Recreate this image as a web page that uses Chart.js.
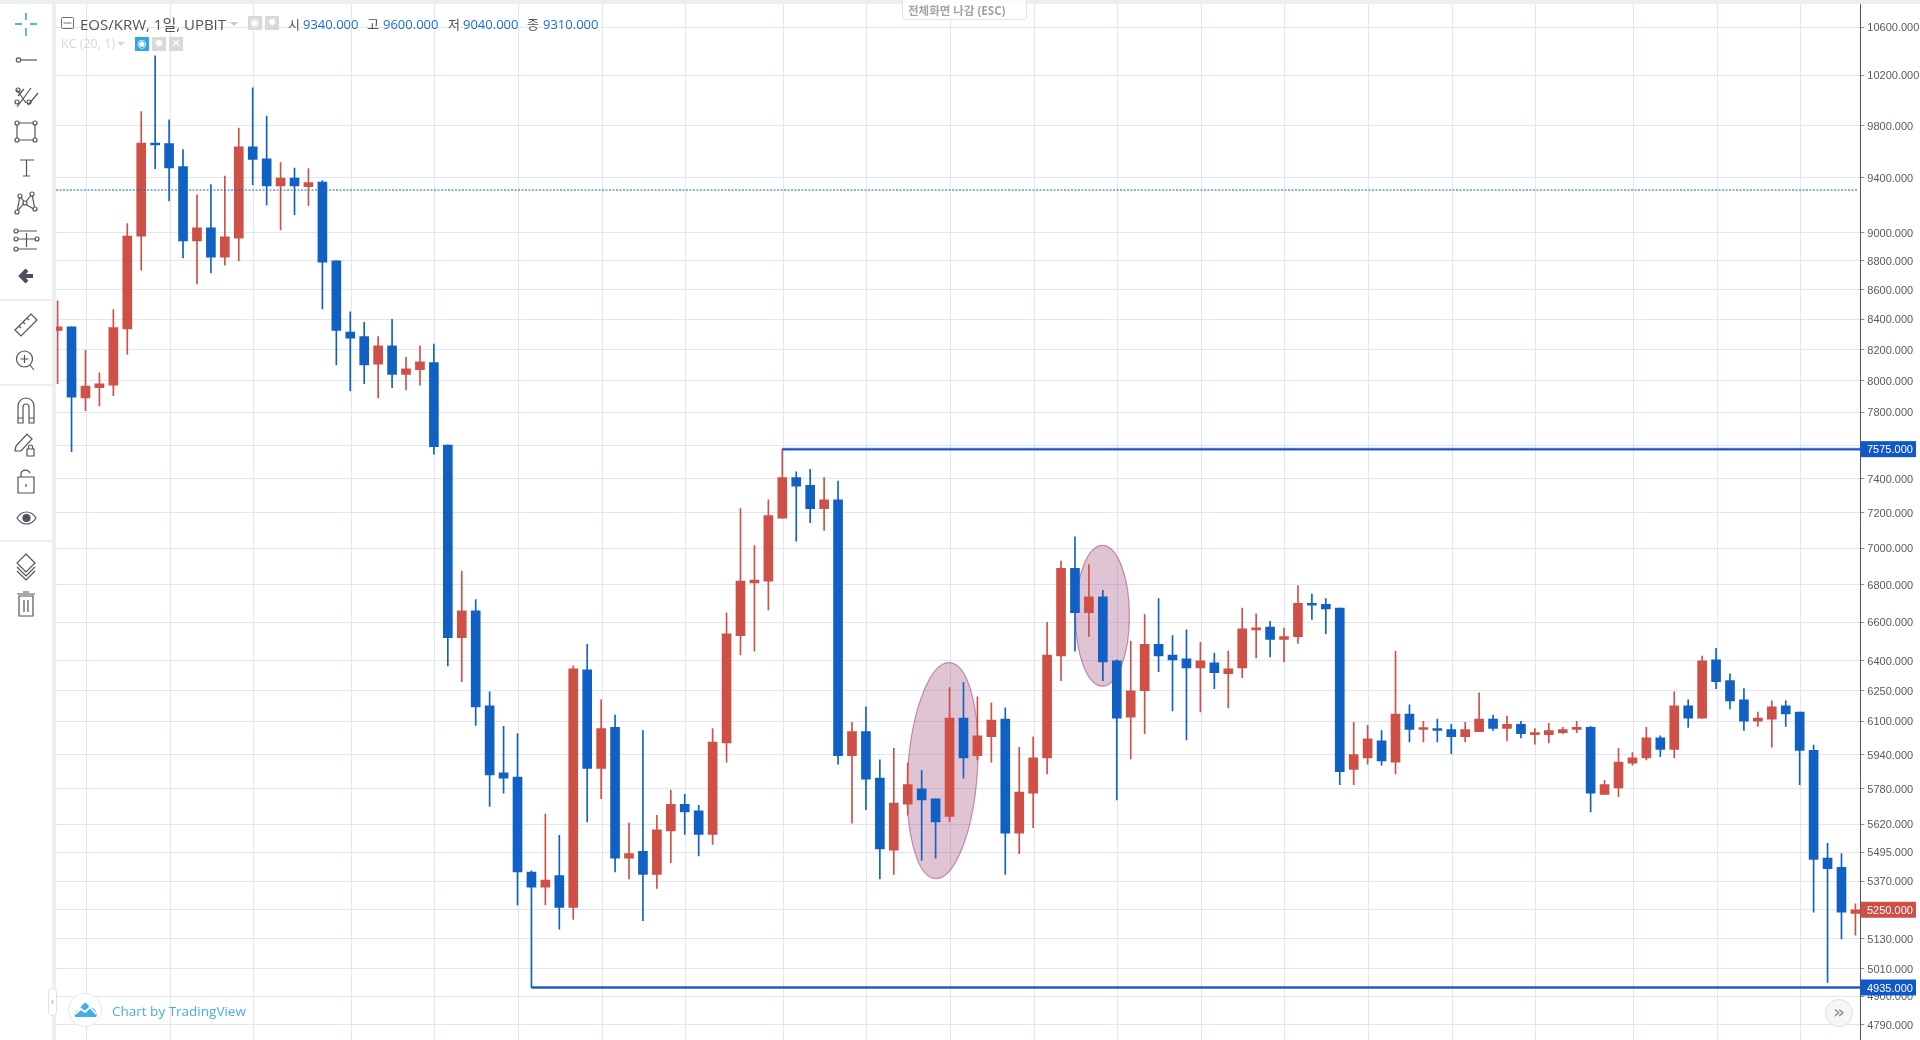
<!DOCTYPE html>
<html lang="ko">
<head>
<meta charset="utf-8">
<title>EOS/KRW</title>
<script src="https://cdn.jsdelivr.net/npm/chart.js@4/dist/chart.umd.min.js"></script>
<style>
    html, body { margin: 0; padding: 0; background: #fff; width: 1920px; height: 1040px; overflow: hidden; }
    #chart { position: absolute; left: 0; top: 0; }
    .abs { position: absolute; white-space: nowrap; }
    .hd { font: 13px "Open Sans", "Noto Sans CJK KR", sans-serif; line-height: 16px; top: 16px; }
    .lab { color: #50535e; }
    .val { color: #1a6fd0; }
    .btn { width: 14px; height: 14px; background: #d9d9d9; top: 16px; color: #fff; font: 11px/14px "DejaVu Sans", sans-serif; text-align: center; }
</style>
</head>
<body>
<canvas id="chart" width="1920" height="1040"></canvas>

<!-- frame strips -->
<div class="abs" style="left:0;top:0;width:1920px;height:4px;background:#eceff2"></div>
<div class="abs" style="left:52px;top:0;width:4px;height:1040px;background:#eceff2"></div>

<!-- drawing toolbar -->
<svg class="abs" style="left:0;top:0" width="52" height="630" fill="none" stroke="#50535e" stroke-width="1.2">
    <g stroke="#1e9be8" stroke-width="1.4"><path d="M15 24h7M30 24h7M26 13v7M26 28v8"/></g>
    <circle cx="18.5" cy="60" r="2.2"/><path d="M21 60h16"/>
    <g transform="translate(0,-3)"><path d="M17 110l14-19M26 106l-9-13M24 92l-6 7M38 96l-10 12"/><circle cx="17" cy="105" r="2"/><circle cx="29" cy="105" r="2"/><circle cx="18" cy="93" r="2"/></g>
    <path d="M17 123h18v17H17z"/><circle cx="17" cy="123" r="2" fill="#fff"/><circle cx="35" cy="123" r="2" fill="#fff"/><circle cx="17" cy="140" r="2" fill="#fff"/><circle cx="35" cy="140" r="2" fill="#fff"/>
    <path d="M20 160h14M26.5 160v16M23 176h7"/>
    <path d="M17 212l3-16 5 7 7-9 3 16-11-7z"/><circle cx="20" cy="196" r="2" fill="#fff"/><circle cx="32" cy="194" r="2" fill="#fff"/><circle cx="25" cy="203" r="2" fill="#fff"/><circle cx="17" cy="212" r="2" fill="#fff"/><circle cx="35" cy="209" r="2" fill="#fff"/>
    <path d="M18 231h19M18 239h18M18 249h19M26.500 233v14"/><circle cx="16" cy="231" r="2"/><circle cx="16" cy="239" r="2"/><circle cx="37" cy="239" r="2"/><circle cx="16" cy="249" r="2"/>
    <path d="M33 276H22M27 270l-6 6 6 6" stroke="#4a4f5a" stroke-width="4"/>
    <path d="M0 300h52M0 385h52M0 541h52" stroke="#eceff2" stroke-width="2"/>
    <g transform="translate(0,-5)"><path d="M15 335l16-16 6 6-16 16zM19 331l2 2M23 327l2 2M27 323l2 2"/></g>
    <circle cx="24.500" cy="359" r="8"/><path d="M20.500 359h8M24.500 355v8M30 365l4 5"/>
    <g transform="translate(0,-6)"><path d="M18 429v-17a8 8 0 0 1 16 0v17h-5v-16a3 3 0 0 0-6 0v16zM18 424h5M29 424h5"/></g>
    <g transform="translate(0,-4)"><path d="M16 450l-1 5h6l11-12-5-5zM27 453h7v7h-7zM28.500 453v-2a2 2 0 0 1 4 0v2"/></g>
    <g transform="translate(0,-4)"><path d="M18 481h16v16H18zM21 481v-4a5 5 0 0 1 9 0M26 488v3"/></g>
    <path d="M17 518c5-8 14-8 19 0-5 8-14 8-19 0z"/><circle cx="26.500" cy="518" r="3.500" fill="#50535e"/>
    <g transform="translate(0,-3)"><path d="M26 557l9 9-9 9-9-9zM17 570l9 9 9-9M17 574l9 9 9-9"/></g>
    <path d="M19 596h14v20H19zM17 594h18M23 592h6M24 600v12M28 600v12"/>
</svg>

<!-- legend -->
<svg class="abs" style="left:61px;top:17px" width="13" height="13" fill="none" stroke="#6b7078"><rect x="0.500" y="0.500" width="12" height="11" rx="1"/><path d="M2.500 6h8"/></svg>
<div class="abs hd lab" style="left:80px;font-size:15px">EOS/KRW, 1일, UPBIT</div>
<div class="abs" style="left:230px;top:22px;border:4px solid transparent;border-top:4px solid #c8c8c8"></div>
<div class="abs btn" style="left:248px">◉</div>
<div class="abs btn" style="left:265px">✹</div>
<div class="abs hd lab" style="left:288px">시</div><div class="abs hd val" style="left:303px">9340.000</div>
<div class="abs hd lab" style="left:367px">고</div><div class="abs hd val" style="left:383px">9600.000</div>
<div class="abs hd lab" style="left:448px">저</div><div class="abs hd val" style="left:463px">9040.000</div>
<div class="abs hd lab" style="left:527px">종</div><div class="abs hd val" style="left:543px">9310.000</div>

<div class="abs hd" style="left:61px;top:36px;color:#d8d8d8;font-size:12.500px">KC (20, 1)</div>
<div class="abs" style="left:117px;top:42px;border:4px solid transparent;border-top:4px solid #d8d8d8"></div>
<div class="abs btn" style="left:135px;top:37px;background:#2fa8e6">◉</div>
<div class="abs btn" style="left:152px;top:37px">✹</div>
<div class="abs btn" style="left:169px;top:37px">✕</div>

<!-- fullscreen hint -->
<div class="abs" style="left:902px;top:-1px;width:118px;height:19px;padding-left:5px;border:1px solid #dfe2e6;border-radius:0 0 3px 3px;background:rgba(255,255,255,.88);color:#a3a3a3;font:bold 11.500px/21px 'Open Sans','Noto Sans CJK KR',sans-serif">전체화면 나감 (ESC)</div>

<!-- side handle and logo -->
<div class="abs" style="left:48px;top:988px;width:7px;height:26px;background:#fff;border:1px solid #dfe2e6;border-radius:4px;color:#aab;font:11px/25px sans-serif;text-align:center">‹</div>
<div class="abs" style="left:68px;top:993px;width:32px;height:32px;border:1px solid #e4e7ea;border-radius:50%;background:#fff"></div>
<svg class="abs" style="left:74px;top:1001px" width="24" height="18"><path d="M1 16c-1-4 1-7 4-7l4-6c2-2 4-1 5 1l2 3c2-1 6 1 6 5 1 2 1 3 0 4z" fill="#45ade9"/><path d="M1 13l6-5 4 3 5-5 6 7" fill="none" stroke="#fff" stroke-width="1.800"/></svg>
<div class="abs" style="left:112px;top:1001px;color:#45ade9;font:13.500px/20px 'Open Sans',sans-serif">Chart by TradingView</div>

<!-- scroll button -->
<div class="abs" style="left:1825px;top:999px;width:26px;height:26px;border:1px solid #ddd;border-radius:50%;background:#f6f6f6;color:#999;font:bold 18px/23px 'DejaVu Sans',sans-serif;text-align:center">»</div>

<script>
// Candles, one value per day
const opens = [
    8325, 8350, 7890, 7955, 7970, 8335, 8975, 9665, 9660, 9485,
    8940, 9035, 8825, 8960, 9635, 9545, 9340, 9400, 9335, 9370,
    8800, 8315, 8285, 8105, 8225, 8040, 8070, 8115, 7600, 6520,
    6660, 6175, 5855, 5835, 5410, 5345, 5395, 5260, 6355, 5875,
    6070, 5470, 5500, 5400, 5590, 5710, 5680, 5575, 5995, 6530,
    6810, 6820, 7170, 7405, 7360, 7225, 7275, 5935, 6050, 5830,
    5505, 5710, 5780, 5735, 5655, 6115, 5935, 6025, 6110, 5580,
    5760, 5925, 6425, 6890, 6650, 6735, 6400, 6120, 6250, 6485,
    6430, 6410, 6365, 6390, 6335, 6365, 6560, 6575, 6510, 6525,
    6700, 6695, 6675, 5870, 5925, 6005, 5905, 6135, 6060, 6065,
    6060, 6025, 6050, 6110, 6065, 6085, 6035, 6035, 6045, 6060,
    6070, 5755, 5785, 5900, 5925, 6020, 5965, 6175, 6115, 6405,
    6300, 6205, 6100, 6110, 6175, 6145, 5960, 5470, 5430, 5235
];
const closes = [
    8350, 7895, 7965, 7980, 8345, 8975, 9665, 9650, 9475, 8940,
    9035, 8825, 8970, 9635, 9540, 9340, 9400, 9340, 9365, 8790,
    8325, 8275, 8100, 8225, 8040, 8075, 8120, 7590, 6520, 6660,
    6170, 5845, 5830, 5410, 5345, 5375, 5260, 6360, 5875, 6065,
    5470, 5490, 5400, 5595, 5710, 5675, 5575, 6000, 6540, 6820,
    6825, 7185, 7405, 7355, 7225, 7275, 5935, 6050, 5825, 5510,
    5715, 5800, 5730, 5630, 6115, 5925, 6030, 6105, 5580, 5765,
    5925, 6430, 6890, 6650, 6735, 6395, 6115, 6250, 6485, 6425,
    6405, 6365, 6400, 6340, 6360, 6565, 6570, 6510, 6525, 6700,
    6690, 6670, 5860, 5940, 6015, 5910, 6135, 6060, 6065, 6055,
    6025, 6060, 6110, 6065, 6085, 6040, 6040, 6055, 6060, 6070,
    5760, 5800, 5905, 5925, 6020, 5965, 6175, 6115, 6400, 6295,
    6200, 6100, 6115, 6170, 6135, 5960, 5465, 5425, 5240, 5250
];
const highs = [
    8525, 8350, 8195, 8050, 8465, 9065, 9910, 10360, 9845, 9615,
    9275, 9350, 9415, 9780, 10100, 9875, 9515, 9475, 9470, 9380,
    8800, 8450, 8380, 8285, 8400, 8150, 8225, 8235, 7600, 6875,
    6720, 6245, 6075, 6040, 5415, 5665, 5570, 6375, 6485, 6205,
    6130, 5625, 6055, 5660, 5775, 5755, 5705, 6065, 6650, 7225,
    7015, 7275, 7575, 7440, 7455, 7405, 7385, 6095, 6170, 5915,
    5970, 5900, 5865, 5735, 6265, 6290, 6220, 6190, 6165, 5975,
    6025, 6600, 6930, 7065, 6910, 6770, 6405, 6500, 6640, 6725,
    6530, 6560, 6495, 6440, 6450, 6675, 6645, 6605, 6570, 6795,
    6750, 6725, 6675, 6095, 6080, 6055, 6450, 6180, 6100, 6110,
    6085, 6095, 6240, 6130, 6125, 6100, 6065, 6090, 6070, 6100,
    6075, 5820, 5970, 5950, 6070, 6030, 6245, 6205, 6425, 6465,
    6335, 6260, 6145, 6200, 6200, 6145, 5985, 5535, 5490, 5275
];
const lows = [
    7980, 7560, 7810, 7840, 7905, 8170, 8735, 9470, 9230, 8820,
    8640, 8715, 8770, 8800, 9350, 9200, 9020, 9130, 9195, 8470,
    8100, 7935, 7980, 7890, 7955, 7940, 7970, 7545, 6375, 6295,
    6080, 5700, 5760, 5270, 4935, 5270, 5170, 5210, 5630, 5735,
    5410, 5380, 5205, 5340, 5450, 5575, 5480, 5530, 5905, 6430,
    6450, 6665, 7170, 7040, 7145, 7100, 5895, 5625, 5685, 5380,
    5400, 5660, 5460, 5470, 5630, 5830, 5915, 5905, 5400, 5490,
    5605, 5850, 6300, 6450, 6525, 6300, 5730, 5920, 6040, 6345,
    6150, 6010, 6145, 6260, 6165, 6315, 6415, 6420, 6395, 6490,
    6615, 6540, 5800, 5800, 5895, 5890, 5850, 6000, 6000, 6000,
    5945, 6000, 6050, 6055, 6005, 6020, 5990, 5995, 6040, 6045,
    5675, 5755, 5745, 5890, 5915, 5930, 5925, 6070, 6115, 6260,
    6160, 6055, 6075, 5975, 6075, 5800, 5240, 4955, 5130, 5145
];

// Price axis ticks as labelled in the picture (7600 sits behind the 7575 box, grid line only)
const priceTicks = [
    10600, 10200, 9800, 9400, 9000, 8800, 8600, 8400, 8200, 8000,
    7800, 7600, 7400, 7200, 7000, 6800, 6600, 6400, 6250, 6100,
    5940, 5780, 5620, 5495, 5370, 5250, 5130, 5010, 4900, 4790
];
const unlabelledTick = 7600;
// Day index of the vertical grid lines
const gridDays = [2.07, 8.07, 14.07, 21.07, 27.07, 33.07, 39.07, 45.07, 52.07, 58.07, 64.07,
    70.07, 76.07, 82.07, 88.07, 94.07, 100.07, 106.07, 113.07, 119.07, 125.07];

// Drawn levels: start day and price
const levelDays = [52, 34];
const levelPrices = [7575, 4935];
const lastPrice = 5250;
const dottedPrice = 9310;

const BLUE = '#1161c4';
const RED = '#cf5046';
const LINE_BLUE = '#1c55c4';
const GRID = '#dfe8ef';
const X_MIN = -0.115;
const X_MAX = 129.35;

const days = opens.map((_, i) => i);
const candleColor = days.map(i => closes[i] >= opens[i] ? RED : BLUE);

function levelLine(day, price, color, width, order) {
    return {
        type: 'line',
        data: [{ x: day, y: price }, { x: X_MAX, y: price }],
        borderColor: color,
        borderWidth: width,
        pointRadius: 0,
        order: order
    };
}

// Highlight ellipses behind the candles
const ellipsePlugin = {
    id: 'ellipses',
    beforeDatasetsDraw(chart) {
        const { ctx, scales } = chart;
        const marks = [
            { day: 63.5, price: 5865, rx: 34.8, ry: 108.2, rot: 0.067 },
            { day: 74.97, price: 6634, rx: 27, ry: 70.4, rot: 0 }
        ];
        ctx.save();
        marks.forEach(m => {
            ctx.beginPath();
            ctx.ellipse(scales.x.getPixelForValue(m.day), scales.y.getPixelForValue(m.price), m.rx, m.ry, m.rot, 0, Math.PI * 2);
            ctx.fillStyle = 'rgba(156, 60, 112, 0.3)';
            ctx.fill();
            ctx.strokeStyle = 'rgba(156, 60, 112, 0.55)';
            ctx.lineWidth = 1.2;
            ctx.stroke();
        });
        ctx.restore();
    }
};

// Coloured price boxes on the axis, tick labels nudged 1px down first
const priceBoxPlugin = {
    id: 'priceBoxes',
    beforeDraw(chart) {
        chart.scales.y.getLabelItems().forEach(item => { item.options.translation[1] += 1; });
    },
    afterDraw(chart) {
        const { ctx, scales } = chart;
        const boxes = [
            { price: levelPrices[0], color: '#1058c8' },
            { price: levelPrices[1], color: '#1058c8' },
            { price: lastPrice, color: '#cd4f45' }
        ];
        ctx.save();
        ctx.font = '11px "Liberation Sans", Arial, sans-serif';
        ctx.textBaseline = 'middle';
        boxes.forEach(b => {
            const y = scales.y.getPixelForValue(b.price);
            ctx.fillStyle = b.color;
            ctx.fillRect(1860.5, y - 8, 55.5, 16);
            ctx.fillStyle = '#fff';
            ctx.fillText(b.price.toFixed(3), 1867, y + 1);
        });
        ctx.restore();
    }
};

new Chart(document.getElementById('chart'), {
    type: 'bar',
    data: {
        datasets: [
            levelLine(levelDays[0], levelPrices[0], 'rgba(60, 105, 215, 0.7)', 3, 1),
            levelLine(levelDays[0], levelPrices[0], LINE_BLUE, 1.5, 0),
            levelLine(levelDays[1], levelPrices[1], 'rgba(60, 105, 215, 0.7)', 3, 1),
            levelLine(levelDays[1], levelPrices[1], LINE_BLUE, 1.5, 0),
            {
                type: 'line',
                data: [{ x: X_MIN, y: dottedPrice }, { x: 129.2, y: dottedPrice }],
                borderColor: '#1565c8',
                borderWidth: 1,
                borderDash: [2, 1.5],
                pointRadius: 0,
                order: 0
            },
            {
                label: 'body',
                data: days.map(i => ({ x: i, y: [opens[i], closes[i]] })),
                backgroundColor: candleColor,
                barThickness: 9,
                minBarLength: 2,
                grouped: false,
                order: 2
            },
            {
                label: 'wick',
                data: days.map(i => ({ x: i, y: [lows[i], highs[i]] })),
                backgroundColor: candleColor,
                barThickness: 1,
                grouped: false,
                order: 3
            }
        ]
    },
    options: {
        responsive: false,
        animation: false,
        devicePixelRatio: 1,
        layout: { padding: { left: 56, top: 4, right: 0, bottom: 0 } },
        plugins: { legend: { display: false }, tooltip: { enabled: false } },
        scales: {
            x: {
                type: 'linear',
                offset: false,
                min: X_MIN,
                max: X_MAX,
                afterBuildTicks: scale => { scale.ticks = gridDays.map(v => ({ value: v })); },
                afterFit: scale => {
                    scale.height = 0;
                    scale.paddingLeft = 0;
                    scale.paddingRight = 0;
                },
                ticks: { display: false },
                border: { display: false },
                grid: { color: GRID, drawTicks: false, offset: false }
            },
            y: {
                type: 'logarithmic',
                position: 'right',
                min: 4733,
                max: 10796,
                afterBuildTicks: scale => { scale.ticks = priceTicks.map(v => ({ value: v })); },
                afterFit: scale => {
                    scale.width = 59.7;
                    scale.paddingTop = 0;
                    scale.paddingBottom = 0;
                },
                ticks: {
                    autoSkip: false,
                    padding: 3,
                    color: '#555b63',
                    font: { family: '"Liberation Sans", Arial, sans-serif', size: 11 },
                    callback: v => Number(v) === unlabelledTick ? '' : Number(v).toFixed(3)
                },
                border: { color: '#50535e', width: 1 },
                grid: { color: GRID, tickColor: '#8a8f96', tickLength: 4 }
            }
        }
    },
    plugins: [ellipsePlugin, priceBoxPlugin]
});
</script>
</body>
</html>
